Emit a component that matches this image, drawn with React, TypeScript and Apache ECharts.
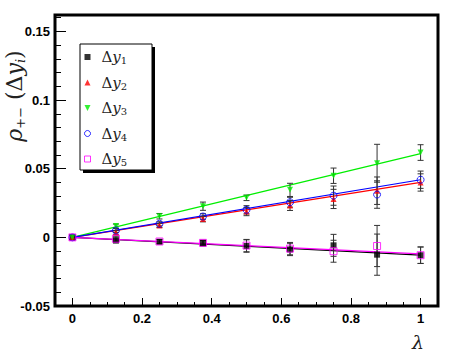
import React, { useEffect, useRef } from "react";
import * as echarts from "echarts";

const lambdas = [0, 0.125, 0.25, 0.375, 0.5, 0.625, 0.75, 0.875, 1];

const dy1 = [0, -0.0022, -0.0032, -0.0042, -0.0063, -0.0088, -0.0058, -0.0126, -0.013];
const dy2 = [0, 0.0034, 0.0087, 0.0133, 0.0188, 0.0232, 0.028, 0.034, 0.04];
const dy3 = [0, 0.0082, 0.0154, 0.0227, 0.0288, 0.0346, 0.0449, 0.054, 0.0618];
const dy4 = [0, 0.005, 0.0099, 0.0152, 0.0201, 0.0256, 0.0304, 0.0312, 0.042];
const dy5 = [0, -0.001, -0.003, -0.004, -0.006, -0.0082, -0.0101, -0.0063, -0.013];

const err1 = [0.0018, 0.0018, 0.0015, 0.002, 0.0045, 0.0045, 0.008, 0.015, 0.006];
const err2 = [0.0015, 0.0015, 0.0015, 0.002, 0.003, 0.0036, 0.007, 0.01, 0.0063];
const err3 = [0.0015, 0.0015, 0.002, 0.003, 0.002, 0.0048, 0.0056, 0.0138, 0.0057];
const err4 = [0.0015, 0.0015, 0.0015, 0.002, 0.003, 0.0036, 0.007, 0.01, 0.0063];
const err5 = [0.0018, 0.0018, 0.0015, 0.002, 0.0045, 0.0045, 0.008, 0.015, 0.006];

// fitted straight lines through the origin: value at lambda = 1
const fitSlopes = [-0.013, 0.04, 0.061, 0.042, -0.012];

const names = ["Δy1", "Δy2", "Δy3", "Δy4", "Δy5"];
const colors = ["#000000", "#ff0000", "#00ee00", "#0000ff", "#ff00ff"];
const symbols = ["rect", "triangle", "path://M0,0 L10,0 L5,10 Z", "circle", "rect"];
const hollowFlags = [false, false, false, true, true];

const xTickLabels = [0, 0.2, 0.4, 0.6, 0.8, 1];
const yTickLabels = [-0.05, 0, 0.05, 0.1, 0.15];

export default function App() {
  const ref = useRef<HTMLDivElement>(null);
  useEffect(() => {
    if (!ref.current) return;
    const chart = echarts.init(ref.current, null, { renderer: "svg" });
    const values = [dy1, dy2, dy3, dy4, dy5];
    const errs = [err1, err2, err3, err4, err5];

    const xMinor: number[] = [];
    for (let i = 0; i <= 22; i++) {
      const v = Math.round((-0.05 + i * 0.05) * 1000) / 1000;
      if (!xTickLabels.some((t) => Math.abs(t - v) < 1e-9)) xMinor.push(v);
    }
    const yMinor: number[] = [];
    for (let i = 0; i <= 21; i++) {
      const v = Math.round((-0.05 + i * 0.01) * 1000) / 1000;
      if (!yTickLabels.some((t) => Math.abs(t - v) < 1e-9)) yMinor.push(v);
    }

    const labelFont = {
      fontFamily: "'Liberation Sans', Arial, sans-serif",
      fontWeight: "bold" as const,
      fontSize: 13,
      color: "#000",
    };

    const series: any[] = [];
    fitSlopes.forEach((s, i) => {
      series.push({
        type: "line",
        name: "fit" + i,
        data: [
          [0, 0],
          [1, s],
        ],
        symbol: "none",
        lineStyle: { color: colors[i], width: 1.2 },
        z: 2,
      });
    });
    values.forEach((vals, i) => {
      series.push({
        type: "custom",
        name: "err" + i,
        data: lambdas.map((x, k) => [x, vals[k], errs[i][k]]),
        encode: { x: 0, y: 1 },
        z: 3,
        renderItem: (params: any, api: any) => {
          const x = api.value(0);
          const y = api.value(1);
          const e = api.value(2);
          const top = api.coord([x, y + e]);
          const bot = api.coord([x, y - e]);
          const st = { stroke: "#333", lineWidth: 1 };
          return {
            type: "group",
            children: [
              { type: "line", shape: { x1: top[0], y1: top[1], x2: bot[0], y2: bot[1] }, style: st },
              { type: "line", shape: { x1: top[0] - 3, y1: top[1], x2: top[0] + 3, y2: top[1] }, style: st },
              { type: "line", shape: { x1: bot[0] - 3, y1: bot[1], x2: bot[0] + 3, y2: bot[1] }, style: st },
            ],
          };
        },
      });
    });
    values.forEach((vals, i) => {
      const hollow = hollowFlags[i];
      series.push({
        type: "scatter",
        name: names[i],
        data: lambdas.map((x, k) => [x, vals[k]]),
        symbol: symbols[i],
        symbolSize: hollow ? 7 : 6,
        itemStyle: hollow
          ? { color: "rgba(255,255,255,0)", borderColor: colors[i], borderWidth: 1 }
          : { color: colors[i] },
        z: 4,
      });
    });

    const rich = {
      d: { fontFamily: "'DejaVu Serif', serif", fontSize: 15, color: "#222" },
      y: { fontFamily: "'DejaVu Serif', serif", fontStyle: "italic", fontSize: 15, color: "#222" },
      s: { fontFamily: "'DejaVu Serif', serif", fontSize: 10, color: "#222", padding: [7, 0, 0, 0] },
    };

    const tickLine = { color: "#000", width: 1 };

    chart.setOption({
      animation: false,
      grid: {
        left: 55,
        top: 15,
        right: 20,
        bottom: 48,
        show: true,
        borderColor: "#000",
        borderWidth: 3,
        backgroundColor: "#fff",
      },
      xAxis: [
        {
          type: "value",
          min: -0.05,
          max: 1.05,
          position: "bottom",
          axisLine: { show: false, onZero: false },
          splitLine: { show: false },
          axisTick: { inside: true, length: 8, customValues: xTickLabels, lineStyle: tickLine },
          axisLabel: { ...labelFont, margin: 6, customValues: xTickLabels, formatter: (v: number) => String(v) },
        },
        {
          type: "value",
          min: -0.05,
          max: 1.05,
          position: "bottom",
          axisLine: { show: false, onZero: false },
          splitLine: { show: false },
          axisTick: { inside: true, length: 4, customValues: xMinor, lineStyle: tickLine },
          axisLabel: { show: false },
        },
      ],
      yAxis: [
        {
          type: "value",
          min: -0.05,
          max: 0.162,
          position: "left",
          axisLine: { show: false, onZero: false },
          splitLine: { show: false },
          axisTick: { inside: true, length: 11, customValues: yTickLabels, lineStyle: tickLine },
          axisLabel: { ...labelFont, margin: 5, customValues: yTickLabels, formatter: (v: number) => String(v) },
        },
        {
          type: "value",
          min: -0.05,
          max: 0.162,
          position: "left",
          axisLine: { show: false, onZero: false },
          splitLine: { show: false },
          axisTick: { inside: true, length: 6, customValues: yMinor, lineStyle: tickLine },
          axisLabel: { show: false },
        },
      ],
      legend: {
        orient: "vertical",
        left: 84,
        top: 49,
        padding: 0,
        itemWidth: 6,
        itemHeight: 6,
        itemGap: 9,
        data: names.map((n, i) => ({
          name: n,
          icon: symbols[i],
          itemStyle: hollowFlags[i]
            ? { color: "rgba(255,255,255,0)", borderColor: colors[i], borderWidth: 1 }
            : { color: colors[i], borderWidth: 0 },
        })),
        formatter: (name: string) => `{d|Δ}{y|y}{s|${name.slice(2)}}`,
        textStyle: { rich, lineHeight: 16, padding: [0, 0, 0, 6] },
        z: 10,
      },
      graphic: [
        { type: "rect", z: 5, shape: { x: 83, y: 47, width: 72, height: 126 }, style: { fill: "#000" } },
        { type: "rect", z: 6, shape: { x: 80, y: 44, width: 72, height: 126 }, style: { fill: "#fff", stroke: "#000", lineWidth: 1 } },
        {
          type: "text",
          x: 14,
          y: 96,
          rotation: Math.PI / 2,
          style: {
            text: "{r|ρ}{sb|+−}{n| (Δ}{i|y}{si|i}{n|)}",
            align: "center",
            verticalAlign: "middle",
            rich: {
              r: { fontFamily: "'DejaVu Serif', serif", fontStyle: "italic", fontSize: 22, fill: "#222" },
              sb: { fontFamily: "'DejaVu Serif', serif", fontSize: 13, fill: "#222", padding: [12, 0, 0, 0] },
              n: { fontFamily: "'DejaVu Serif', serif", fontSize: 22, fill: "#222" },
              i: { fontFamily: "'DejaVu Serif', serif", fontStyle: "italic", fontSize: 22, fill: "#222" },
              si: { fontFamily: "'DejaVu Serif', serif", fontStyle: "italic", fontSize: 13, fill: "#222", padding: [12, 0, 0, 0] },
            },
          },
        },
        {
          type: "text",
          x: 418,
          y: 342,
          style: {
            text: "λ",
            align: "center",
            verticalAlign: "middle",
            fontFamily: "'DejaVu Serif', serif",
            fontStyle: "italic",
            fontSize: 19,
            fill: "#222",
          },
        },
      ],
      series,
    });
    return () => chart.dispose();
  }, []);
  return <div ref={ref} style={{ width: 458, height: 354, position: "absolute", left: 0, top: 0 }} />;
}
